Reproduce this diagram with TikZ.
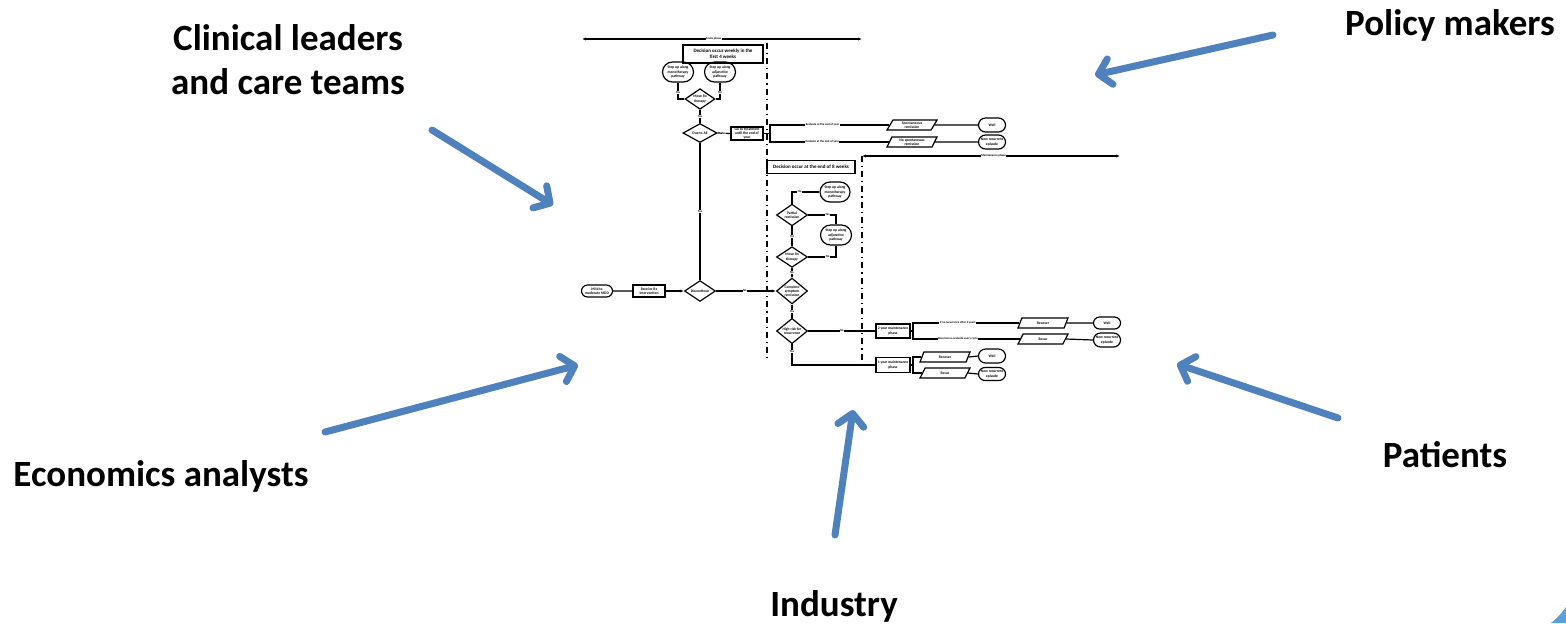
\documentclass[tikz,border=0pt]{standalone}
\usepackage{fontspec}
\setmainfont{Carlito}
\usetikzlibrary{arrows.meta,shapes.geometric,shapes.misc,calc}
\definecolor{arrowblue}{RGB}{79,129,189}
\definecolor{cornerblue}{RGB}{91,160,215}
\newcommand\fd{\fontsize{1.85}{2.1}\selectfont\bfseries}
\newcommand\fh{\fontsize{2.5}{3}\selectfont\bfseries}
\newcommand\fl{\fontsize{1.5}{1.8}\selectfont\bfseries}
\begin{document}
\begin{tikzpicture}[x=0.5pt,y=-0.5pt,
 sz/.style 2 args={minimum width=#1*0.5pt,minimum height=#2*0.5pt},
 fbox/.style={draw,line width=0.6pt,rectangle,inner sep=0pt,align=center,font=\fd},
 stad/.style={draw,line width=0.6pt,rounded rectangle,inner sep=0pt,align=center,font=\fd},
 dia/.style={draw,line width=0.6pt,diamond,inner sep=0pt,align=center,font=\fd},
 para/.style={draw,line width=0.6pt,trapezium,trapezium left angle=65,trapezium right angle=115,trapezium stretches=true,inner sep=0pt,align=center,font=\fd},
 conn/.style={line width=0.6pt},
 tipconn/.style={line width=0.6pt,-{Latex[length=2pt,width=1.6pt]}},
 yn/.style={fill=white,inner sep=0.2pt,font=\fl},
 big/.style={font=\fontsize{18.5}{22}\selectfont\bfseries,align=center,text=black},
 bluearrow/.style={draw=arrowblue,line width=3.5pt,line cap=round,-{Straight Barb[length=6pt,width=13pt,round]}},
 phase/.style={line width=0.6pt,{Latex[length=2pt,width=1.6pt]}-{Latex[length=2pt,width=1.6pt]}},
 divider/.style={line width=0.6pt,dash dot}
]
\fill[white] (0,0) rectangle (1566,623);
\useasboundingbox (0,0) rectangle (1566,623);

% stakeholder labels
\node[big] (clin) at (288,60) {Clinical leaders\\and care teams};
\node[big] (pol) at (1450,25) {Policy makers};
\node[big] (eco) at (161,476) {Economics analysts};
\node[big] (pat) at (1445,455) {Patients};
\node[big] (ind) at (834,606) {Industry};

% blue arrows
\coordinate (a1s) at (432,130); \coordinate (a1e) at (553,205);
\coordinate (a2s) at (1273,35); \coordinate (a2e) at (1095,75);
\coordinate (a3s) at (325,432); \coordinate (a3e) at (578,365);
\coordinate (a4s) at (1338,418); \coordinate (a4e) at (1177,364);
\coordinate (a5s) at (835,535); \coordinate (a5e) at (853,410);
\draw[bluearrow] (a1s) -- (a1e);
\draw[bluearrow] (a2s) -- (a2e);
\draw[bluearrow] (a3s) -- (a3e);
\draw[bluearrow] (a4s) -- (a4e);
\draw[bluearrow] (a5s) -- (a5e);

% phases and dividers
\coordinate (ap1) at (582,39); \coordinate (ap2) at (862,39);
\draw[phase] (ap1) -- node[yn,pos=0.47]{Acute phase} (ap2);
\coordinate (mp1) at (862,156); \coordinate (mp2) at (1120,156);
\draw[phase] (mp1) -- node[yn,pos=0.51]{Maintenance phase} (mp2);
\coordinate (d1t) at (767,43); \coordinate (d1b) at (767,362);
\coordinate (d2t) at (862,156); \coordinate (d2b) at (862,366);
\draw[divider] (d1t) -- (d1b);
\draw[divider] (d2t) -- (d2b);

% acute phase nodes
\node[fbox,sz={80}{18},font=\fh] (dec1) at (723,54) {Decision occur weekly in the\\first 4 weeks};
\node[stad,sz={31}{20}] (mono1) at (678,72) {Step up along\\monotherapy\\pathway};
\node[stad,sz={31}{20}] (adj1) at (720,72) {Step up along\\adjunctive\\pathway};
\node[dia,sz={30}{19}] (move1) at (700,99) {Move Rx\\therapy};
\node[dia,sz={34}{19}] (due) at (700,133) {Due to AE};
\node[fbox,sz={32}{13}] (gotx) at (747,133.5) {Go to treatment\\until the end of\\year};
\node[para,sz={50}{10}] (spont) at (912,125) {Spontaneous\\remission};
\node[para,sz={50}{10}] (nospont) at (912,142) {No spontaneous\\remission};
\node[stad,sz={27}{14}] (well1) at (992,125) {Well};
\node[stad,sz={27}{14}] (newrec1) at (992,142) {New recurrent\\episode};

\node[stad,sz={31}{12}] (mild) at (597,291) {Mild to\\moderate MDD};
\node[fbox,sz={32}{12}] (rx) at (649,291) {Receive Rx\\intervention};
\node[dia,sz={31}{20}] (disc) at (700,291) {Discontinue};

% 8-week decision nodes
\node[fbox,sz={88}{13},font=\fh] (dec2) at (811,167) {Decision occur at the end of 8 weeks};
\node[stad,sz={30}{20}] (mono2) at (835,192) {Step up along\\monotherapy\\pathway};
\node[stad,sz={31}{20}] (adj2) at (836,235) {Step up along\\adjunctive\\pathway};
\node[dia,sz={31}{18}] (partial) at (792,215) {Partial\\remission};
\node[dia,sz={31}{19}] (moverx2) at (792,257) {Move Rx\\therapy};
\node[dia,sz={31}{22}] (complete) at (792,291) {Complete\\symptom\\remission};
\node[dia,sz={31}{19}] (highrisk) at (792,331) {High risk for\\recurrence};

% maintenance nodes
\node[fbox,sz={34}{14}] (y2) at (893,331) {2 year maintenance\\phase};
\node[fbox,sz={34}{15}] (y1) at (893,365) {1 year maintenance\\phase};
\node[para,sz={50}{10}] (recov2) at (1043,323) {Recover};
\node[para,sz={50}{10}] (recur2) at (1043,339) {Recur};
\node[stad,sz={27}{12}] (well2) at (1107,323) {Well};
\node[stad,sz={27}{14}] (newrec2) at (1107,340) {New recurrent\\episode};
\node[para,sz={50}{10}] (recov1) at (945,357) {Recover};
\node[para,sz={50}{10}] (recur1) at (945,373) {Recur};
\node[stad,sz={27}{14}] (well3) at (992,356) {Well};
\node[stad,sz={27}{13}] (newrec3) at (992,374) {New recurrent\\episode};

% connectors, acute phase
\draw[conn] (mono1.south) |- node[yn,pos=0.3]{Yes} (move1.west);
\draw[conn] (adj1.south) |- node[yn,pos=0.3]{No} (move1.east);
\draw[conn] (move1.south) -- node[yn]{Yes} (due.north);
\draw[conn] (due.east) -- node[yn]{No} (gotx.west);
\draw[conn] (due.south) -- node[yn,pos=0.5]{Yes} (disc.north);
\coordinate (j1) at (770,133.5);
\draw[conn] (gotx.east) -- (j1);
\draw[conn] (j1) |- node[yn,pos=0.72]{Evaluate at the end of year} (spont.west);
\draw[conn] (j1) |- node[yn,pos=0.72]{Evaluate at the end of year} (nospont.west);
\draw[conn] (spont.east) -- (well1.west);
\draw[conn] (nospont.east) -- (newrec1.west);
\draw[conn] (mild) -- (rx);
\draw[tipconn] (rx) -- (disc);
\draw[tipconn] (disc.east) -- node[yn,pos=0.48]{No} (complete.west);

% connectors, 8 weeks
\draw[conn] (partial.north) |- node[yn,pos=0.64]{No} (mono2.west);
\draw[conn] (partial.east) -| node[yn,pos=0.35]{Yes} (adj2.north);
\draw[conn] (partial.south) -- node[yn]{Yes} (moverx2.north);
\draw[conn] (moverx2.east) -| node[yn,pos=0.35]{No} (adj2.south);
\draw[conn] (moverx2.south) -- node[yn]{No} (complete.north);
\draw[conn] (complete.south) -- node[yn]{Yes} (highrisk.north);
\draw[conn] (highrisk.east) -- node[yn,pos=0.5]{No} (y2.west);
\draw[conn] (highrisk.south) |- node[yn,pos=0.18]{Yes} (y1.west);

% connectors, maintenance
\coordinate (j2) at (913,331);
\draw[conn] (y2.east) -- (j2);
\draw[conn] (j2) |- node[yn,pos=0.71]{If no recurrence after 2 years} (recov2.west);
\draw[conn] (j2) |- node[yn,pos=0.71]{Recurrence evaluate every cycle} (recur2.west);
\draw[conn] (recov2.east) -- (well2.west);
\draw[conn] (recur2.east) -- (newrec2.west);
\coordinate (j3) at (913,365);
\draw[conn] (y1.east) -- (j3);
\draw[conn] (j3) |- (recov1.west);
\draw[conn] (j3) |- (recur1.west);
\draw[conn] (recov1.east) -- (well3.west);
\draw[conn] (recur1.east) -- (newrec3.west);

% corner decoration
\fill[cornerblue] (1551,623) .. controls (1557,618) and (1561,614) .. (1566,607) -- (1566,623) -- cycle;
\end{tikzpicture}
\end{document}
